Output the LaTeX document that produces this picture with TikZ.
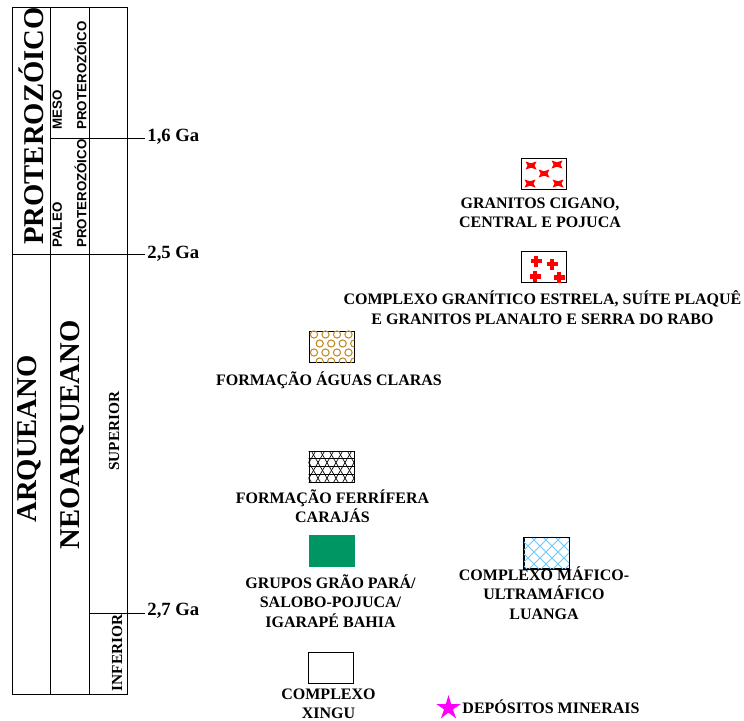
\documentclass[tikz,border=0pt]{standalone}
\usepackage{fontspec}
\setmainfont{Liberation Serif}
\setsansfont{Liberation Sans}
\usetikzlibrary{shapes.geometric}
\definecolor{legbrown}{RGB}{190,140,40}
\definecolor{leggreen}{RGB}{0,150,100}
\definecolor{legblue}{RGB}{110,200,255}
\definecolor{legmagenta}{RGB}{255,0,255}
\tikzstyle{legbox}=[rectangle,draw=black,line width=0.7pt,minimum width=33.75pt,minimum height=23.25pt,inner sep=0]
\tikzstyle{legtext}=[align=center,font=\fontsize{12}{14.6}\selectfont\bfseries,inner sep=0]
\tikzstyle{era}=[rotate=90,font=\fontsize{21.5}{24}\selectfont\bfseries,inner sep=0]
\tikzstyle{subera}=[rotate=90,font=\fontsize{10}{18.5}\selectfont\sffamily\bfseries,align=left,inner sep=0,anchor=north west]
\tikzstyle{stage}=[rotate=90,font=\fontsize{11.5}{13}\selectfont\bfseries,inner sep=0]
\tikzstyle{tick}=[font=\fontsize{14}{16}\selectfont\bfseries,anchor=base west,inner sep=0]

\begin{document}
\begin{tikzpicture}[x=0.75pt,y=-0.75pt,line width=0.7pt]
        \useasboundingbox (0,0) rectangle (744,721);
        % time scale
        \draw (12,7) rectangle (127,694);
        \draw (50,7) -- (50,694);
        \draw (89,7) -- (89,694);
        \draw (50,138) -- (145,138);
        \draw (12,254) -- (145,254);
        \draw (89,613) -- (145,613);
        \node[tick] (t16) at (147,141) {1,6 Ga};
        \node[tick] (t25) at (147,258) {2,5 Ga};
        \node[tick] (t27) at (147,615) {2,7 Ga};

        \node[era] (prot) at (31,126) {PROTEROZÓICO};
        \node[era] (arq) at (29,439) {ARQUEANO};
        \node[era] (neo) at (72,435) {NEOARQUEANO};
        \node[subera] (meso) at (52,130) {MESO\\PROTEROZÓICO};
        \node[subera] (paleo) at (52,248) {PALEO\\PROTEROZÓICO};
        \node[stage] (sup) at (114,431) {SUPERIOR};
        \node[stage] (inf) at (117,653) {INFERIOR};

        % legend
        \node[legbox] (cigano) at (544,173.5) {};
        \foreach \dx/\dy in {-13/-8,13/-9,0/0,-14/10,14/10}
            \fill[red] ([shift={(\dx,\dy)}]cigano.center) ++(-5.5,-4) -- ++(5.5,1.8) -- ++(5.5,-1.8)
                -- ++(-2,4) -- ++(2,4) -- ++(-5.5,-1.8) -- ++(-5.5,1.8) -- ++(2,-4) -- cycle;
        \node[legtext] (ciganotxt) at (540,213) {GRANITOS CIGANO,\\CENTRAL E POJUCA};

        \node[legbox] (estrela) at (544,266.5) {};
        \foreach \dx/\dy in {-8/-5.5,8/-2.5,-9/10,15/11}
        {
            \fill[red] ([shift={(\dx,\dy)}]estrela.center) ++(-5.5,-2.2) rectangle ++(11,4.4);
            \fill[red] ([shift={(\dx,\dy)}]estrela.center) ++(-2.2,-5.5) rectangle ++(4.4,11);
        }
        \node[legtext] (estrelatxt) at (542.5,307.5)
            {COMPLEXO GRANÍTICO ESTRELA, SUÍTE PLAQUÊ\\E GRANITOS PLANALTO E SERRA DO RABO};

        \node[legbox] (aguas) at (331.5,346.5) {};
        \begin{scope}
            \clip (aguas.south west) rectangle (aguas.north east);
            \foreach \r in {0,...,3}
                \foreach \c in {0,...,4}
                    \draw[legbrown,line width=0.8pt] ({314+\c*11.5+mod(\r,2)*5.7},{334.5+\r*9}) circle[radius=2.7pt];
        \end{scope}
        \node[legtext] (aguastxt) at (329,380) {FORMAÇÃO ÁGUAS CLARAS};

        \node[legbox] (ferr) at (331.5,467) {};
        \begin{scope}
            \clip (ferr.south west) rectangle (ferr.north east);
            \foreach \j in {0,...,5}
                \draw[line width=0.5pt] (305,{451+\j*7.8}) -- (360,{451+\j*7.8});
            \foreach \k in {-3,...,9}
            {
                \draw[line width=0.5pt] ({300+\k*9},447) -- ++(23.1,40);
                \draw[line width=0.5pt] ({300+\k*9},447) -- ++(-23.1,40);
            }
        \end{scope}
        \node[legtext] (ferrtxt) at (332.5,506) {FORMAÇÃO FERRÍFERA\\CARAJÁS};

        \node[legbox,fill=leggreen,draw=leggreen] (grao) at (331.5,551) {};
        \node[legtext] (graotxt) at (330.5,601) {GRUPOS GRÃO PARÁ/\\SALOBO-POJUCA/\\IGARAPÉ BAHIA};

        \node[legbox] (luanga) at (546.5,553) {};
        \begin{scope}
            \clip (luanga.south west) rectangle (luanga.north east);
            \foreach \k in {-4,...,8}
            {
                \draw[legblue,line width=0.6pt] ({500+\k*12},530) -- ++(45,45);
                \draw[legblue,line width=0.6pt] ({520+\k*12},530) -- ++(-45,45);
            }
        \end{scope}
        \draw[line width=0.7pt] (luanga.south west) rectangle (luanga.north east);
        \node[legtext] (luangatxt) at (544,593) {COMPLEXO MÁFICO-\\ULTRAMÁFICO\\LUANGA};

        \node[legbox] (xingu) at (330.5,668) {};
        \node[legtext] (xingutxt) at (328.5,704) {COMPLEXO\\XINGU};

        \node[star,star points=5,star point ratio=2.8,fill=legmagenta,minimum size=19.5pt,inner sep=0] (dep) at (448.5,708) {};
        \node[legtext,anchor=west] (deptxt) at (462,707) {DEPÓSITOS MINERAIS};
\end{tikzpicture}
\end{document}
